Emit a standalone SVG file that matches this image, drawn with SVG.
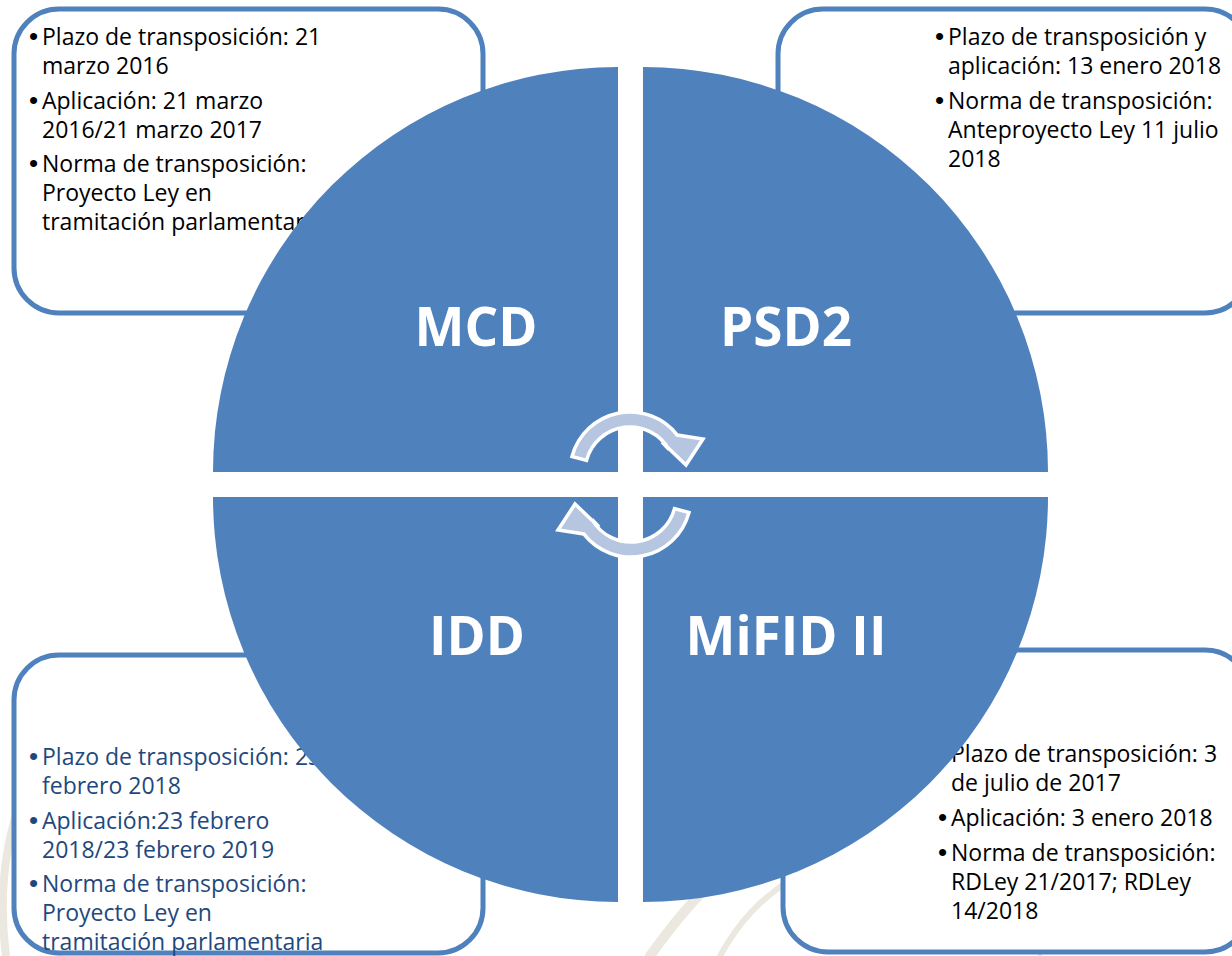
<svg xmlns="http://www.w3.org/2000/svg" xmlns:xlink="http://www.w3.org/1999/xlink" width="1232" height="956" viewBox="0 0 1232 956">
<style>
.box{fill:#ffffff;stroke:#4f81bd;stroke-width:5}
.txt{font-family:"Open Sans","DejaVu Sans",sans-serif;font-size:23px;fill:#000000}
.txt.blue{fill:#1f497d}
.b{font-family:"Liberation Sans",Arial,sans-serif;font-size:26px}
.quad{fill:#4f81bd}
.lbl{font-family:"Open Sans","DejaVu Sans",sans-serif;font-size:53px;font-weight:bold;fill:#ffffff;text-anchor:middle}
.arr{fill:#b7c6e0;stroke:#ffffff;stroke-width:3.5;stroke-linejoin:miter}
.wm{fill:none;stroke:#ebe8df;stroke-linecap:round}
</style>
<defs>
<path id="arrowShape" d="M572,456.5 A60,60 0 0 1 677.3,435.1 L703,439 L686,465 L662,442 L669,449.5 A45,45 0 0 0 586.5,460.4 Z"/>
</defs>
<rect width="1232" height="956" fill="#ffffff"/>
<g id="watermark">
<path class="wm" stroke-width="8" d="M6,956 C-4,880 10,810 40,760"/>
<path class="wm" stroke-width="5" d="M60,956 C70,880 120,800 200,760"/>
<path class="wm" stroke-width="10" d="M650,956 C690,900 720,870 760,850"/>
<path class="wm" stroke-width="6" d="M720,956 C740,920 760,900 790,880"/>
<path class="wm" stroke-width="4" d="M1040,956 C1040,860 1120,800 1232,790"/>
</g>
<g id="box-mcd">
<rect class="box" x="14" y="9" width="469" height="304" rx="45" ry="45"/>
<text class="txt"><tspan class="b" x="29" y="45">•</tspan><tspan x="42" y="45">Plazo de transposición: 21</tspan><tspan x="42" y="74">marzo 2016</tspan><tspan class="b" x="29" y="109">•</tspan><tspan x="42" y="109">Aplicación: 21 marzo</tspan><tspan x="42" y="138">2016/21 marzo 2017</tspan><tspan class="b" x="29" y="172">•</tspan><tspan x="42" y="172">Norma de transposición:</tspan><tspan x="42" y="201">Proyecto Ley en</tspan><tspan x="42" y="230">tramitación parlamentaria</tspan></text>
</g>
<g id="box-psd2">
<rect class="box" x="778" y="9" width="472" height="304" rx="45" ry="45"/>
<text class="txt"><tspan class="b" x="935" y="45">•</tspan><tspan x="948" y="45">Plazo de transposición y</tspan><tspan x="948" y="74">aplicación: 13 enero 2018</tspan><tspan class="b" x="935" y="109">•</tspan><tspan x="948" y="109">Norma de transposición:</tspan><tspan x="948" y="138">Anteproyecto Ley 11 julio</tspan><tspan x="948" y="167">2018</tspan></text>
</g>
<g id="box-idd">
<rect class="box" x="14" y="655" width="469" height="298" rx="45" ry="45"/>
<text class="txt blue"><tspan class="b" x="29" y="765">•</tspan><tspan x="42" y="765">Plazo de transposición: 23</tspan><tspan x="42" y="794">febrero 2018</tspan><tspan class="b" x="29" y="829">•</tspan><tspan x="42" y="829">Aplicación:23 febrero</tspan><tspan x="42" y="858">2018/23 febrero 2019</tspan><tspan class="b" x="29" y="892">•</tspan><tspan x="42" y="892">Norma de transposición:</tspan><tspan x="42" y="921">Proyecto Ley en</tspan><tspan x="42" y="950">tramitación parlamentaria</tspan></text>
</g>
<g id="box-mifid">
<rect class="box" x="783" y="650" width="467" height="302" rx="45" ry="45"/>
<text class="txt"><tspan class="b" x="938" y="762">•</tspan><tspan x="951" y="762">Plazo de transposición: 3</tspan><tspan x="951" y="791">de julio de 2017</tspan><tspan class="b" x="938" y="826">•</tspan><tspan x="951" y="826">Aplicación: 3 enero 2018</tspan><tspan class="b" x="938" y="861">•</tspan><tspan x="951" y="861">Norma de transposición:</tspan><tspan x="951" y="890">RDLey 21/2017; RDLey</tspan><tspan x="951" y="919">14/2018</tspan></text>
</g>
<g id="quad-mcd">
<path class="quad" d="M618,472 L618,67 A405,405 0 0 0 213,472 Z"/>
<text class="lbl" x="476" y="346">MCD</text>
</g>
<g id="quad-psd2">
<path class="quad" d="M643,472 L1048,472 A405,405 0 0 0 643,67 Z"/>
<text class="lbl" x="786" y="346">PSD2</text>
</g>
<g id="quad-idd">
<path class="quad" d="M618,497 L213,497 A405,405 0 0 0 618,902 Z"/>
<text class="lbl" x="477" y="655">IDD</text>
</g>
<g id="quad-mifid">
<path class="quad" d="M643,497 L643,902 A405,405 0 0 0 1048,497 Z"/>
<text class="lbl" x="786" y="655">MiFID II</text>
</g>
<g id="connectors">
<use xlink:href="#arrowShape" class="arr"/>
<use xlink:href="#arrowShape" class="arr" transform="rotate(180 630.5 484.5)"/>
</g>
</svg>
